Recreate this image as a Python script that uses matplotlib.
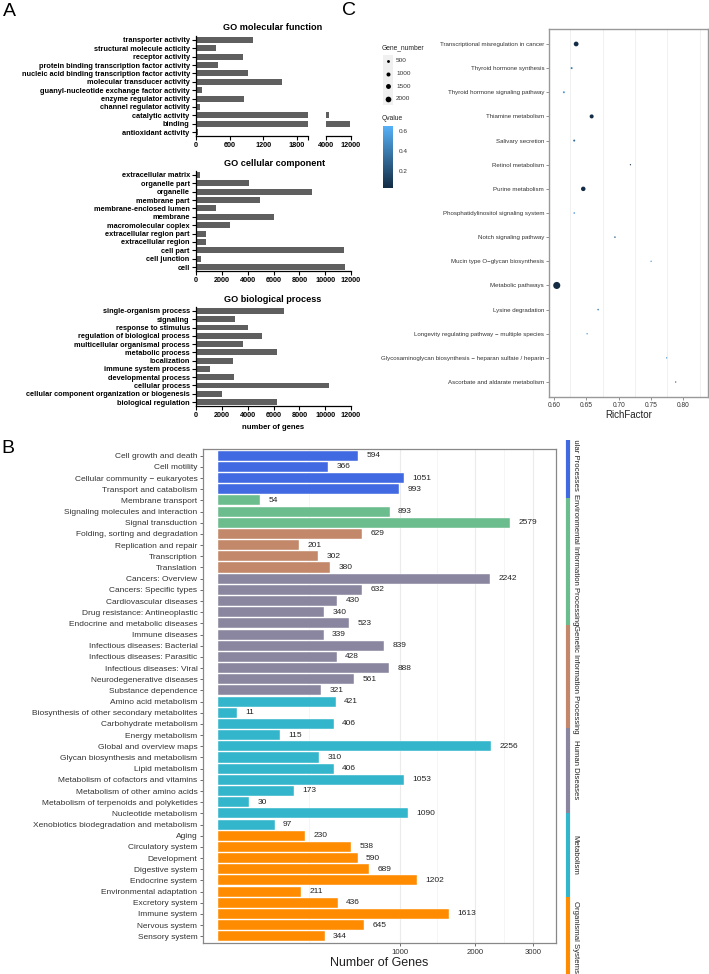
import numpy as np
import matplotlib
matplotlib.use('Agg')
import matplotlib.pyplot as plt
from matplotlib.colors import LinearSegmentedColormap, Normalize
from matplotlib.cm import ScalarMappable
from matplotlib.patches import Rectangle

plt.rcParams['font.family'] = ['Liberation Sans', 'DejaVu Sans']
NARROW = ['Liberation Sans Narrow', 'Liberation Sans', 'DejaVu Sans']

# ---------------- data: panel A (GO) ----------------
mf_terms = ['transporter activity', 'structural molecule acticity', 'receptor activity',
            'protein binding transcription factor activity',
            'nucleic acid binding transcription factor activity',
            'molecular transducer activity', 'guanyl-nucleotide exchange factor activity',
            'enzyme regulator activity', 'channel regulator activity', 'catalytic activity',
            'binding', 'antioxidant activity']
mf_counts = [1025, 352, 834, 387, 930, 1538, 107, 858, 77, 5000, 11700, 42]

cc_terms = ['extracellular matrix', 'organelle part', 'organelle', 'membrane part',
            'membrane-enclosed lumen', 'membrane', 'macromolecular coplex',
            'extracellular region part', 'extracellular region', 'cell part',
            'cell junction', 'cell']
cc_counts = [310, 4130, 8950, 4930, 1550, 6060, 2660, 750, 770, 11450, 360, 11550]

bp_terms = ['single-organism process', 'signaling', 'response to stimulus',
            'regulation of biological process', 'multicellular organismal process',
            'metabolic process', 'localization', 'immune system process',
            'developmental process', 'cellular process',
            'cellular component organization or biogenesis', 'biological regulation']
bp_counts = [6840, 3040, 4000, 5110, 3660, 6240, 2840, 1080, 2970, 10320, 1990, 6240]

# ---------------- data: panel B (KEGG classes) ----------------
kegg_groups = ['Cellular Processes', 'Environmental Information Processing',
               'Genetic Information Processing', 'Human Diseases', 'Metabolism',
               'Organismal Systems']
kegg_colors = ['#4169E1', '#6BBD8E', '#C3886A', '#8B86A0', '#33B5CB', '#FF8C00']
kegg_terms = [
    ['Cell growth and death', 'Cell motility', 'Cellular community \u2212 eukaryotes',
     'Transport and catabolism'],
    ['Membrane transport', 'Signaling molecules and interaction', 'Signal transduction'],
    ['Folding, sorting and degradation', 'Replication and repair', 'Transcription',
     'Translation'],
    ['Cancers: Overview', 'Cancers: Specific types', 'Cardiovascular diseases',
     'Drug resistance: Antineoplastic', 'Endocrine and metabolic diseases',
     'Immune diseases', 'Infectious diseases: Bacterial', 'Infectious diseases: Parasitic',
     'Infectious diseases: Viral', 'Neurodegenerative diseases', 'Substance dependence'],
    ['Amino acid metabolism', 'Biosynthesis of other secondary metabolites',
     'Carbohydrate metabolism', 'Energy metabolism', 'Global and overview maps',
     'Glycan biosynthesis and metabolism', 'Lipid metabolism',
     'Metabolism of cofactors and vitamins', 'Metabolism of other amino acids',
     'Metabolism of terpenoids and polyketides', 'Nucleotide metabolism',
     'Xenobiotics biodegradation and metabolism'],
    ['Aging', 'Circulatory system', 'Development', 'Digestive system', 'Endocrine system',
     'Environmental adaptation', 'Excretory system', 'Immune system', 'Nervous system',
     'Sensory system'],
]
kegg_counts = [
    [594, 366, 1051, 993],
    [54, 893, 2579],
    [629, 201, 302, 380],
    [2242, 632, 430, 340, 523, 339, 839, 428, 888, 561, 321],
    [421, 11, 406, 115, 2256, 310, 406, 1053, 173, 30, 1090, 97],
    [230, 538, 590, 689, 1202, 211, 436, 1613, 645, 344],
]

# ---------------- data: panel C (enrichment) ----------------
c_terms = ['Transcriptional misregulation in cancer', 'Thyroid hormone synthesis',
           'Thyroid hormone signaling pathway', 'Thiamine metabolism', 'Salivary secretion',
           'Retinol metabolism', 'Purine metabolism', 'Phosphatidylinositol signaling system',
           'Notch signaling pathway', 'Mucin type O\u2212glycan biosynthesis',
           'Metabolic pathways', 'Lysine degradation',
           'Longevity regulating pathway \u2212 multiple species',
           'Glycosaminoglycan biosynthesis \u2212 heparan sulfate / heparin',
           'Ascorbate and aldarate metabolism']
c_rich = [0.634, 0.627, 0.615, 0.658, 0.631, 0.718, 0.645, 0.631, 0.694, 0.750,
          0.604, 0.668, 0.651, 0.774, 0.788]
c_genes = [1400, 250, 250, 1000, 250, 100, 1250, 150, 150, 120, 3100, 150, 130, 100, 110]
c_qval = [0.04, 0.42, 0.55, 0.04, 0.32, 0.08, 0.04, 0.52, 0.30, 0.55, 0.03, 0.40, 0.58,
          0.48, 0.28]
legend_sizes = [500, 1000, 1500, 2000]

W, H = 709, 974
fig = plt.figure(figsize=(W / 100, H / 100), dpi=100)


def px_axes(x0, y0, x1, y1):
    return fig.add_axes([x0 / W, 1 - y1 / H, (x1 - x0) / W, (y1 - y0) / H])


def px(x, y):
    return x / W, 1 - y / H


# ================= panel A =================
BAR = '#5f5f5f'


def go_style(ax, terms, show_y=True):
    for s in ['top', 'right']:
        ax.spines[s].set_visible(False)
    ax.spines['left'].set_linewidth(0.9)
    ax.spines['bottom'].set_linewidth(0.9)
    ax.set_ylim(len(terms) - 0.5, -0.5)
    ax.tick_params(axis='both', direction='out', length=3, width=0.8, pad=1.5,
                   labelsize=5.2)
    for lab in ax.get_xticklabels() + ax.get_yticklabels():
        lab.set_fontweight('bold')
    if show_y:
        ax.set_yticks(range(len(terms)))
        ax.set_yticklabels(terms, fontsize=5.3, fontweight='bold')
    else:
        ax.spines['left'].set_visible(False)
        ax.set_yticks([])


# molecular function (broken axis)
ax1 = px_axes(196, 35.8, 308, 136.2)
ax2 = px_axes(325.7, 35.8, 350.7, 136.2)
ypos = np.arange(len(mf_terms))
for ax in (ax1, ax2):
    ax.barh(ypos, mf_counts, height=0.72, color=BAR)
ax1.set_xlim(0, 2000)
ax1.set_xticks([0, 600, 1200, 1800])
ax1.set_xticks([2000], minor=True)
ax2.set_xlim(4000, 12000)
ax2.set_xticks([4000, 12000])
go_style(ax1, mf_terms)
go_style(ax2, mf_terms, show_y=False)
ax1.tick_params(axis='x', which='minor', direction='out', length=3, width=0.8)
for ax in (ax1, ax2):
    for lab in ax.get_xticklabels():
        lab.set_fontweight('bold')
fig.text(*px(273, 27), 'GO molecular function', ha='center', va='center',
         fontsize=6.6, fontweight='bold')

# cellular component
ax3 = px_axes(196, 170.8, 351, 271.2)
ax3.barh(np.arange(len(cc_terms)), cc_counts, height=0.72, color=BAR)
ax3.set_xlim(0, 12000)
ax3.set_xticks(np.arange(0, 12001, 2000))
go_style(ax3, cc_terms)
fig.text(*px(275, 164), 'GO cellular component', ha='center', va='center',
         fontsize=6.6, fontweight='bold')

# biological process
ax4 = px_axes(196, 306.8, 351, 406.2)
ax4.barh(np.arange(len(bp_terms)), bp_counts, height=0.72, color=BAR)
ax4.set_xlim(0, 12000)
ax4.set_xticks(np.arange(0, 12001, 2000))
go_style(ax4, bp_terms)
ax4.set_xlabel('number of genes', fontsize=5.6, fontweight='bold', labelpad=3)
fig.text(*px(273, 299), 'GO biological process', ha='center', va='center',
         fontsize=6.6, fontweight='bold')

# ================= panel B =================
axb = px_axes(203, 449, 556, 943)
names, vals, cols = [], [], []
for terms, counts, col in zip(kegg_terms, kegg_counts, kegg_colors):
    names += terms
    vals += counts
    cols += [col] * len(terms)
yb = np.arange(len(names))


def fwd(x):
    return np.sign(x) * np.sqrt(np.abs(x))


def inv(x):
    return np.sign(x) * np.asarray(x) ** 2


axb.set_xscale('function', functions=(fwd, inv))
major = [1000, 2000, 3000]
edges = [0] + major
minor = [float(inv((fwd(a) + fwd(b)) / 2)) for a, b in zip(edges[:-1], edges[1:])]
for m in major:
    axb.axvline(m, color='#EBEBEB', lw=0.8, zorder=0)
for m in minor:
    axb.axvline(m, color='#F4F4F4', lw=0.6, zorder=0)
axb.barh(yb, vals, height=0.9, color=cols, edgecolor='white', linewidth=0.3, zorder=2)
for y, v in zip(yb, vals):
    axb.annotate(str(v), (v, y), xytext=(6, 0), textcoords='offset points',
                 ha='left', va='center', fontsize=6, family=NARROW, color='#222222')
axb.set_xlim(-6.8, 3460)
axb.set_ylim(len(names) - 0.4, -0.6)
axb.set_xticks(major)
axb.set_xticklabels([str(m) for m in major], family=NARROW, fontsize=5.6, color='#333333')
axb.set_xticks([], minor=True)
axb.set_yticks(yb)
axb.set_yticklabels(names, family=NARROW, fontsize=6, color='#333333')
axb.tick_params(axis='both', length=2, width=0.6, color='#555555', pad=2)
for s in axb.spines.values():
    s.set_color('#888888')
    s.set_linewidth(0.9)
axb.set_xlabel('Number of Genes', family=NARROW, fontsize=9, color='#222222', labelpad=1)

# group strip on the right
axs = px_axes(560, 440, 600, 974)
axs.set_xlim(560, 600)
axs.set_ylim(974, 440)
axs.axis('off')
strip_bounds = [440, 498, 625, 728, 813, 897, 974]
strip_text_mid = [458, 560, 679, 770, 855, 937]
for i, (grp, col) in enumerate(zip(kegg_groups, kegg_colors)):
    axs.plot([568, 568], [strip_bounds[i], strip_bounds[i + 1]], color=col, lw=3,
             solid_capstyle='butt')
    axs.text(575, strip_text_mid[i], grp, rotation=270, ha='center', va='center',
             fontsize=5.6, family=NARROW, color='#222222', clip_on=True)

# ================= panel C =================
cmap = LinearSegmentedColormap.from_list('q', ['#132B43', '#56B1F7'])
norm = Normalize(vmin=0.03, vmax=0.65)
K = 0.0084  # points^2 per gene

axc = px_axes(549, 29, 708, 397)
yc = np.arange(len(c_terms))
for g in np.arange(0.625, 0.83, 0.05):
    axc.axvline(g, color='#EEEEEE', lw=0.6, zorder=0)
axc.scatter(c_rich, yc, s=np.array(c_genes) * K, c=c_qval, cmap=cmap, norm=norm,
            linewidths=0, zorder=3)
axc.set_xlim(0.592, 0.838)
axc.set_ylim(len(c_terms) - 0.38, -0.62)
axc.set_xticks([0.60, 0.65, 0.70, 0.75, 0.80])
axc.set_xticklabels(['0.60', '0.65', '0.70', '0.75', '0.80'], family=NARROW, fontsize=4.8,
                    color='#333333')
axc.set_yticks(yc)
axc.set_yticklabels(c_terms, family=NARROW, fontsize=4.4, color='#333333')
axc.tick_params(axis='both', length=2, width=0.5, color='#666666', pad=1.5)
for s in axc.spines.values():
    s.set_color('#999999')
    s.set_linewidth(1.0)
axc.set_xlabel('RichFactor', family=NARROW, fontsize=7, color='#222222', labelpad=1)

# size legend
fig.text(*px(382, 48), 'Gene_number', ha='left', va='center', fontsize=4.8,
         family=NARROW, color='#222222')
lg = px_axes(380, 54, 420, 105)
lg.set_xlim(380, 420)
lg.set_ylim(105, 54)
lg.axis('off')
for i, v in enumerate(legend_sizes):
    ymid = 61 + i * 12.5
    lg.add_patch(Rectangle((383, ymid - 6.25), 10, 12.5, color='#F0F0F0', lw=0))
    lg.scatter([388], [ymid], s=v * K, color='black', linewidths=0, zorder=3)
    lg.text(396, ymid, str(v), ha='left', va='center', fontsize=4.6, family=NARROW,
            color='#333333')

# q-value colour bar
fig.text(*px(382, 119), 'Qvalue', ha='left', va='center', fontsize=4.8, family=NARROW,
         color='#222222')
cax = px_axes(383, 126, 393, 188)
cb = fig.colorbar(ScalarMappable(norm=norm, cmap=cmap), cax=cax)
cb.outline.set_visible(False)
cb.set_ticks([0.2, 0.4, 0.6])
cb.ax.tick_params(length=2, width=0.5, color='white', pad=2, labelsize=4.6,
                  labelcolor='#333333')
for lab in cb.ax.get_yticklabels():
    lab.set_family(NARROW)

# panel letters
fig.text(*px(3, 3), 'A', ha='left', va='top', fontsize=14)
fig.text(*px(1, 440), 'B', ha='left', va='top', fontsize=14)
fig.text(*px(342, 2), 'C', ha='left', va='top', fontsize=14)

fig.savefig('out.png', dpi=100)
